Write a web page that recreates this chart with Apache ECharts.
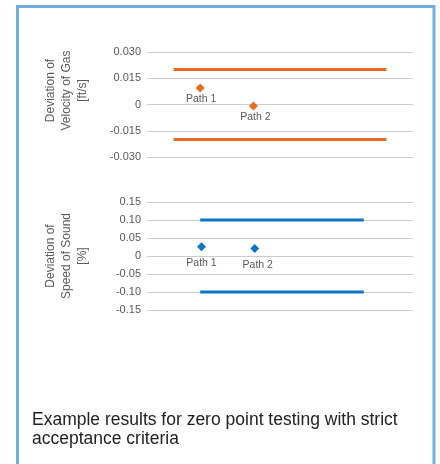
<!DOCTYPE html>
<html>
<head>
<meta charset="utf-8">
<script src="https://cdn.jsdelivr.net/npm/echarts@6/dist/echarts.min.js"></script>
<style>
html,body{margin:0;padding:0;background:#fff;}
#c{width:440px;height:464px;}
</style>
</head>
<body>
<div id="c"></div>
<script>
// ---- data ----
var gasTicks = ['-0.030', '-0.015', '0', '0.015', '0.030'];
var gasTickValues = [-0.03, -0.015, 0, 0.015, 0.03];
var gasLimitX = [1, 9];
var gasUpper = [0.02, 0.02];
var gasLower = [-0.02, -0.02];
var gasPaths = ['Path 1', 'Path 2'];
var gasPathX = [2, 4];
var gasValues = [0.0095, -0.0008];

var sosTicks = ['-0.15', '-0.10', '-0.05', '0', '0.05', '0.10', '0.15'];
var sosTickValues = [-0.15, -0.1, -0.05, 0, 0.05, 0.1, 0.15];
var sosLimitX = [2, 8.15];
var sosUpper = [0.1, 0.1];
var sosLower = [-0.1, -0.1];
var sosPaths = ['Path 1', 'Path 2'];
var sosPathX = [2.05, 4.05];
var sosValues = [0.026, 0.021];

var gasTitle = ['Deviation of', 'Velocity of Gas', '[ft/s]'];
var sosTitle = ['Deviation of', 'Speed of Sound', '[%]'];
var caption = ['Example results for zero point testing with strict', 'acceptance criteria'];

// ---- build ----
var ORANGE = '#eb6a22', BLUE = '#0b77c7', GRAY = '#595959';
var FONT = 'Liberation Sans';

function pairs(xs, ys) { return xs.map(function (x, i) { return [x, ys[i]]; }); }
function labelMap(vals, labels) {
  return function (v) {
    for (var i = 0; i < vals.length; i++) if (Math.abs(vals[i] - v) < 1e-9) return labels[i];
    return '';
  };
}

var chart = echarts.init(document.getElementById('c'), null, {renderer: 'canvas'});

function yAxisCfg(gi, min, max, interval, vals, labels) {
  return {
    gridIndex: gi, type: 'value', min: min, max: max, interval: interval,
    axisLine: {show: false}, axisTick: {show: false},
    axisLabel: {color: GRAY, fontFamily: FONT, fontSize: 11, margin: 6, formatter: labelMap(vals, labels)},
    splitLine: {lineStyle: {color: '#cccccc', width: 1}}
  };
}
function xAxisCfg(gi) {
  return {gridIndex: gi, type: 'value', min: 0, max: 10, show: false, splitLine: {show: false}};
}
function limitSeries(gi, xs, ys, color) {
  return {
    type: 'line', xAxisIndex: gi, yAxisIndex: gi, data: pairs(xs, ys), symbol: 'none',
    lineStyle: {color: color, width: 3}, silent: true, animation: false
  };
}
function pointSeries(gi, xs, ys, names, color, dist, offsets) {
  return {
    type: 'scatter', xAxisIndex: gi, yAxisIndex: gi, symbol: 'diamond', symbolSize: 9,
    itemStyle: {color: color, opacity: 1}, animation: false,
    data: xs.map(function (x, i) {
      return {value: [x, ys[i]], name: names[i], label: {offset: offsets[i]}};
    }),
    label: {show: true, position: 'bottom', distance: dist, color: GRAY, fontFamily: FONT, fontSize: 10.5,
      formatter: function (p) { return p.name; }}
  };
}

var option = {
  backgroundColor: '#fff',
  animation: false,
  grid: [
    {left: 147, right: 27, top: 52, height: 105},
    {left: 147, right: 27, top: 202, height: 108}
  ],
  xAxis: [xAxisCfg(0), xAxisCfg(1)],
  yAxis: [
    yAxisCfg(0, -0.03, 0.03, 0.015, gasTickValues, gasTicks),
    yAxisCfg(1, -0.15, 0.15, 0.05, sosTickValues, sosTicks)
  ],
  series: [
    limitSeries(0, gasLimitX, gasUpper, ORANGE),
    limitSeries(0, gasLimitX, gasLower, ORANGE),
    pointSeries(0, gasPathX, gasValues, gasPaths, ORANGE, 1.5, [[1, 0], [2, 0]]),
    limitSeries(1, sosLimitX, sosUpper, BLUE),
    limitSeries(1, sosLimitX, sosLower, BLUE),
    pointSeries(1, sosPathX, sosValues, sosPaths, BLUE, 6.5, [[0, 0], [3, 0]])
  ],
  graphic: [
    {type: 'rect', shape: {x: 17.5, y: 6.5, width: 416.5, height: 470},
      style: {fill: 'none', stroke: '#72aee0', lineWidth: 3}, silent: true},
    {type: 'text', x: 66.5, y: 90.5, rotation: Math.PI / 2,
      style: {text: gasTitle.join('\n'), fill: GRAY, font: '12px "' + FONT + '"', align: 'center', verticalAlign: 'middle', lineHeight: 16}},
    {type: 'text', x: 66.5, y: 256, rotation: Math.PI / 2,
      style: {text: sosTitle.join('\n'), fill: GRAY, font: '12px "' + FONT + '"', align: 'center', verticalAlign: 'middle', lineHeight: 16}},
    {type: 'text', x: 32, y: 410,
      style: {text: caption.join('\n'), fill: '#222222', font: '17.5px "' + FONT + '"', align: 'left', verticalAlign: 'top', lineHeight: 19.5}}
  ]
};
chart.setOption(option);
</script>
</body>
</html>
